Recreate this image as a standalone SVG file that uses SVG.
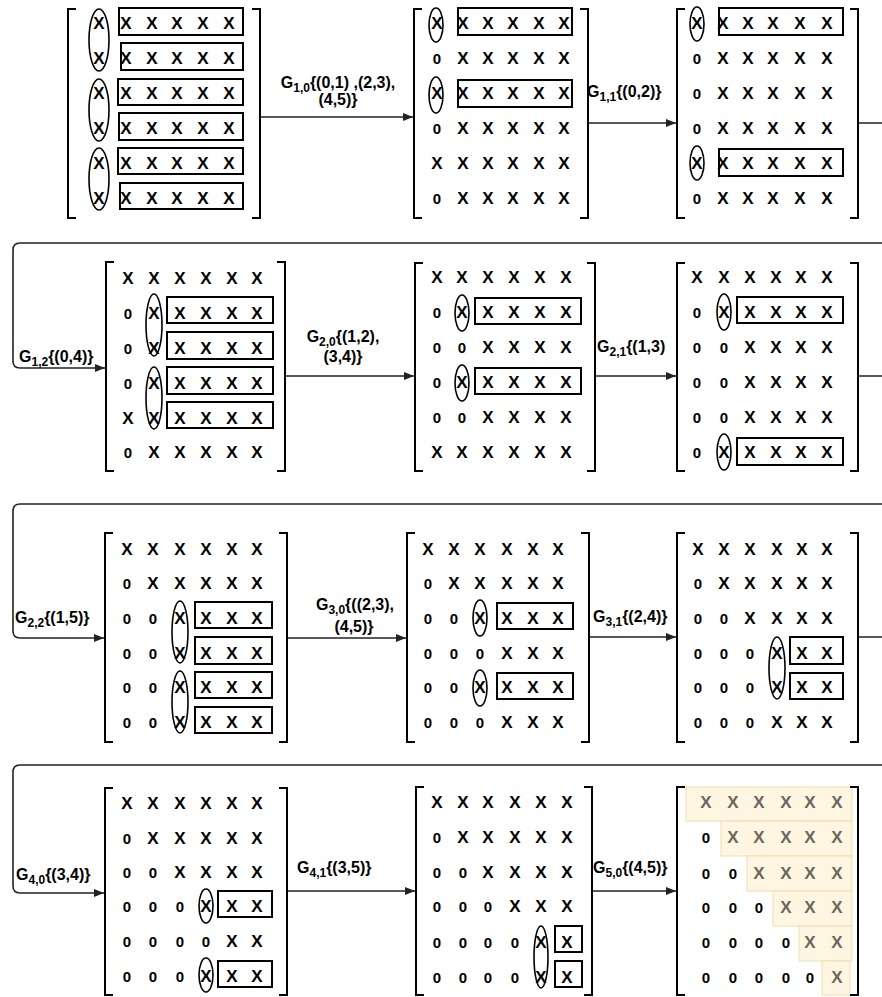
<svg xmlns="http://www.w3.org/2000/svg" width="882" height="997" viewBox="0 0 882 997">
<style>
text{font-family:"Liberation Sans",Arial,sans-serif;font-weight:bold;fill:#000}
.x{font-size:17px;text-anchor:middle;dominant-baseline:central}
.z{font-size:15px}
.g{fill:#6b675c}
.lbl{font-size:16px}
.sb{font-size:12px}
.br{fill:none;stroke:#000;stroke-width:2}
.bx{fill:none;stroke:#000;stroke-width:2}
.el{fill:none;stroke:#000;stroke-width:1.6}
.cn{fill:none;stroke:#222;stroke-width:1.6}
.st{fill:#fef6e1;stroke:#eedfb0;stroke-width:1}
</style>
<defs>
<marker id="ah" viewBox="0 0 10 8" refX="10" refY="4" markerWidth="10" markerHeight="8" markerUnits="userSpaceOnUse" orient="auto">
<path d="M0,0 L10,4 L0,8 Z" fill="#222"/>
</marker>
</defs>
<rect width="882" height="997" fill="#fff"/>

<g id="connectors">
<path class="cn" d="M260,117 H413" marker-end="url(#ah)"/>
<path class="cn" d="M588,123 H676" marker-end="url(#ah)"/>
<path class="cn" d="M858,123 H895 V243 H20 Q13,243 13,250 V361 Q13,368 20,368 H105" marker-end="url(#ah)"/>
<path class="cn" d="M285,376 H414" marker-end="url(#ah)"/>
<path class="cn" d="M595,376 H676" marker-end="url(#ah)"/>
<path class="cn" d="M858,376 H895 V504 H20 Q13,504 13,511 V631 Q13,638 20,638 H104" marker-end="url(#ah)"/>
<path class="cn" d="M287,638 H406" marker-end="url(#ah)"/>
<path class="cn" d="M589,637 H676" marker-end="url(#ah)"/>
<path class="cn" d="M858,637 H895 V765 H20 Q13,765 13,772 V886 Q13,893 20,893 H104" marker-end="url(#ah)"/>
<path class="cn" d="M287,891 H415" marker-end="url(#ah)"/>
<path class="cn" d="M592,891 H676" marker-end="url(#ah)"/>
</g>

<g id="labels">
<text class="lbl" x="338" y="88" text-anchor="middle">G<tspan class="sb" dy="4">1,0</tspan><tspan dy="-4">{(0,1) ,(2,3),</tspan></text>
<text class="lbl" x="338" y="105" text-anchor="middle">(4,5)}</text>
<text class="lbl" x="587" y="97">G<tspan class="sb" dy="4">1,1</tspan><tspan dy="-4">{(0,2)}</tspan></text>
<text class="lbl" x="19" y="362">G<tspan class="sb" dy="4">1,2</tspan><tspan dy="-4">{(0,4)}</tspan></text>
<text class="lbl" x="343" y="342" text-anchor="middle">G<tspan class="sb" dy="4">2,0</tspan><tspan dy="-4">{(1,2),</tspan></text>
<text class="lbl" x="343" y="362" text-anchor="middle">(3,4)}</text>
<text class="lbl" x="597" y="352">G<tspan class="sb" dy="4">2,1</tspan><tspan dy="-4">{(1,3)</tspan></text>
<text class="lbl" x="15" y="623">G<tspan class="sb" dy="4">2,2</tspan><tspan dy="-4">{(1,5)}</tspan></text>
<text class="lbl" x="355" y="610" text-anchor="middle">G<tspan class="sb" dy="4">3,0</tspan><tspan dy="-4">{((2,3),</tspan></text>
<text class="lbl" x="354" y="632" text-anchor="middle">(4,5)}</text>
<text class="lbl" x="593" y="622">G<tspan class="sb" dy="4">3,1</tspan><tspan dy="-4">{(2,4)}</tspan></text>
<text class="lbl" x="16" y="880">G<tspan class="sb" dy="4">4,0</tspan><tspan dy="-4">{(3,4)}</tspan></text>
<text class="lbl" x="297" y="873">G<tspan class="sb" dy="4">4,1</tspan><tspan dy="-4">{(3,5)}</tspan></text>
<text class="lbl" x="593" y="873">G<tspan class="sb" dy="4">5,0</tspan><tspan dy="-4">{(4,5)}</tspan></text>
</g>

<g id="m1">
<path class="br" d="M76,9 H68 V218 H76 M252,9 H260 V218 H252"/>
<rect class="bx" x="119" y="8" width="124" height="27"/>
<rect class="bx" x="121" y="43" width="122" height="27"/>
<rect class="bx" x="118" y="79" width="125" height="26"/>
<rect class="bx" x="119" y="113" width="124" height="27"/>
<rect class="bx" x="118" y="148" width="125" height="26"/>
<rect class="bx" x="120" y="183" width="123" height="26"/>
<ellipse class="el" cx="99" cy="40" rx="10" ry="31"/>
<ellipse class="el" cx="99" cy="110" rx="10" ry="31"/>
<ellipse class="el" cx="99" cy="179" rx="10" ry="31"/>
<text class="x" x="99 126 152 177 203 229" y="23">XXXXXX</text>
<text class="x" x="99 126 152 177 203 229" y="58">XXXXXX</text>
<text class="x" x="99 126 152 177 203 229" y="93">XXXXXX</text>
<text class="x" x="99 126 152 177 203 229" y="128">XXXXXX</text>
<text class="x" x="99 126 152 177 203 229" y="163">XXXXXX</text>
<text class="x" x="99 126 152 177 203 229" y="198">XXXXXX</text>
</g>

<g id="m2">
<path class="br" d="M422,9 H414 V218 H422 M580,9 H588 V218 H580"/>
<rect class="bx" x="458" y="8" width="114" height="27"/>
<rect class="bx" x="458" y="80" width="114" height="27"/>
<ellipse class="el" cx="436" cy="25" rx="7" ry="17"/>
<ellipse class="el" cx="436" cy="95" rx="7" ry="18"/>
<text class="x" x="437 463 488 513 539 564" y="23">XXXXXX</text>
<text class="x" y="58"><tspan class="z" x="437">0</tspan><tspan x="463 488 513 539 564">XXXXX</tspan></text>
<text class="x" x="437 463 488 513 539 564" y="93">XXXXXX</text>
<text class="x" y="128"><tspan class="z" x="437">0</tspan><tspan x="463 488 513 539 564">XXXXX</tspan></text>
<text class="x" x="437 463 488 513 539 564" y="163">XXXXXX</text>
<text class="x" y="198"><tspan class="z" x="437">0</tspan><tspan x="463 488 513 539 564">XXXXX</tspan></text>
</g>

<g id="m3">
<path class="br" d="M685,9 H677 V218 H685 M850,9 H858 V218 H850"/>
<rect class="bx" x="719" y="8" width="124" height="27"/>
<rect class="bx" x="719" y="149" width="124" height="27"/>
<ellipse class="el" cx="697" cy="24" rx="7" ry="17"/>
<ellipse class="el" cx="697" cy="163" rx="7" ry="17"/>
<text class="x" x="697 723 748 773 800 827" y="23">XXXXXX</text>
<text class="x" y="58"><tspan class="z" x="697">0</tspan><tspan x="723 748 773 800 827">XXXXX</tspan></text>
<text class="x" y="93"><tspan class="z" x="697">0</tspan><tspan x="723 748 773 800 827">XXXXX</tspan></text>
<text class="x" y="128"><tspan class="z" x="697">0</tspan><tspan x="723 748 773 800 827">XXXXX</tspan></text>
<text class="x" x="697 723 748 773 800 827" y="163">XXXXXX</text>
<text class="x" y="198"><tspan class="z" x="697">0</tspan><tspan x="723 748 773 800 827">XXXXX</tspan></text>
</g>

<g id="m4">
<path class="br" d="M114,262 H106 V471 H114 M277,262 H285 V471 H277"/>
<rect class="bx" x="167" y="297" width="106" height="26"/>
<rect class="bx" x="167" y="332" width="106" height="27"/>
<rect class="bx" x="167" y="367" width="106" height="27"/>
<rect class="bx" x="167" y="402" width="106" height="26"/>
<ellipse class="el" cx="154" cy="325" rx="8" ry="31"/>
<ellipse class="el" cx="154" cy="398" rx="8" ry="31"/>
<text class="x" x="128 154 180 206 232 257" y="278">XXXXXX</text>
<text class="x" y="313"><tspan class="z" x="128">0</tspan><tspan x="154 180 206 232 257">XXXXX</tspan></text>
<text class="x" y="348"><tspan class="z" x="128">0</tspan><tspan x="154 180 206 232 257">XXXXX</tspan></text>
<text class="x" y="383"><tspan class="z" x="128">0</tspan><tspan x="154 180 206 232 257">XXXXX</tspan></text>
<text class="x" x="128 154 180 206 232 257" y="418">XXXXXX</text>
<text class="x" y="452"><tspan class="z" x="128">0</tspan><tspan x="154 180 206 232 257">XXXXX</tspan></text>
</g>

<g id="m5">
<path class="br" d="M423,263 H415 V471 H423 M587,263 H595 V471 H587"/>
<rect class="bx" x="475" y="298" width="106" height="26"/>
<rect class="bx" x="475" y="368" width="106" height="26"/>
<ellipse class="el" cx="462" cy="313" rx="7" ry="18"/>
<ellipse class="el" cx="462" cy="383" rx="7" ry="18"/>
<text class="x" x="437 462 488 514 540 566" y="277">XXXXXX</text>
<text class="x" y="312"><tspan class="z" x="437">0</tspan><tspan x="462 488 514 540 566">XXXXX</tspan></text>
<text class="x" y="347"><tspan class="z" x="437 462">00</tspan><tspan x="488 514 540 566">XXXX</tspan></text>
<text class="x" y="382"><tspan class="z" x="437">0</tspan><tspan x="462 488 514 540 566">XXXXX</tspan></text>
<text class="x" y="417"><tspan class="z" x="437 462">00</tspan><tspan x="488 514 540 566">XXXX</tspan></text>
<text class="x" x="437 462 488 514 540 566" y="452">XXXXXX</text>
</g>

<g id="m6">
<path class="br" d="M685,263 H677 V471 H685 M850,263 H858 V471 H850"/>
<rect class="bx" x="737" y="297" width="106" height="26"/>
<rect class="bx" x="737" y="438" width="106" height="27"/>
<ellipse class="el" cx="724" cy="312" rx="7" ry="18"/>
<ellipse class="el" cx="724" cy="452" rx="7" ry="18"/>
<text class="x" x="697 724 750 776 801 827" y="277">XXXXXX</text>
<text class="x" y="312"><tspan class="z" x="697">0</tspan><tspan x="724 750 776 801 827">XXXXX</tspan></text>
<text class="x" y="347"><tspan class="z" x="697 724">00</tspan><tspan x="750 776 801 827">XXXX</tspan></text>
<text class="x" y="382"><tspan class="z" x="697 724">00</tspan><tspan x="750 776 801 827">XXXX</tspan></text>
<text class="x" y="417"><tspan class="z" x="697 724">00</tspan><tspan x="750 776 801 827">XXXX</tspan></text>
<text class="x" y="452"><tspan class="z" x="697">0</tspan><tspan x="724 750 776 801 827">XXXXX</tspan></text>
</g>

<g id="m7">
<path class="br" d="M113,533 H105 V742 H113 M279,533 H287 V742 H279"/>
<rect class="bx" x="195" y="602" width="77" height="26"/>
<rect class="bx" x="195" y="637" width="77" height="27"/>
<rect class="bx" x="195" y="672" width="77" height="26"/>
<rect class="bx" x="195" y="707" width="77" height="26"/>
<ellipse class="el" cx="180" cy="632" rx="8" ry="31"/>
<ellipse class="el" cx="180" cy="702" rx="8" ry="31"/>
<text class="x" x="127 153 180 206 232 257" y="549">XXXXXX</text>
<text class="x" y="583"><tspan class="z" x="127">0</tspan><tspan x="153 180 206 232 257">XXXXX</tspan></text>
<text class="x" y="618"><tspan class="z" x="127 153">00</tspan><tspan x="180 206 232 257">XXXX</tspan></text>
<text class="x" y="653"><tspan class="z" x="127 153">00</tspan><tspan x="180 206 232 257">XXXX</tspan></text>
<text class="x" y="687"><tspan class="z" x="127 153">00</tspan><tspan x="180 206 232 257">XXXX</tspan></text>
<text class="x" y="722"><tspan class="z" x="127 153">00</tspan><tspan x="180 206 232 257">XXXX</tspan></text>
</g>

<g id="m8">
<path class="br" d="M415,533 H407 V742 H415 M581,533 H589 V742 H581"/>
<rect class="bx" x="497" y="603" width="76" height="26"/>
<rect class="bx" x="497" y="673" width="76" height="26"/>
<ellipse class="el" cx="480" cy="618" rx="7" ry="18"/>
<ellipse class="el" cx="480" cy="688" rx="7" ry="18"/>
<text class="x" x="428 454 480 507 533 558" y="549">XXXXXX</text>
<text class="x" y="583"><tspan class="z" x="428">0</tspan><tspan x="454 480 507 533 558">XXXXX</tspan></text>
<text class="x" y="618"><tspan class="z" x="428 454">00</tspan><tspan x="480 507 533 558">XXXX</tspan></text>
<text class="x" y="653"><tspan class="z" x="428 454 480">000</tspan><tspan x="507 533 558">XXX</tspan></text>
<text class="x" y="687"><tspan class="z" x="428 454">00</tspan><tspan x="480 507 533 558">XXXX</tspan></text>
<text class="x" y="722"><tspan class="z" x="428 454 480">000</tspan><tspan x="507 533 558">XXX</tspan></text>
</g>

<g id="m9">
<path class="br" d="M685,533 H677 V742 H685 M850,533 H858 V742 H850"/>
<rect class="bx" x="790" y="637" width="53" height="27"/>
<rect class="bx" x="790" y="673" width="53" height="26"/>
<ellipse class="el" cx="777" cy="668" rx="8" ry="31"/>
<text class="x" x="698 724 750 777 802 827" y="549">XXXXXX</text>
<text class="x" y="583"><tspan class="z" x="698">0</tspan><tspan x="724 750 777 802 827">XXXXX</tspan></text>
<text class="x" y="618"><tspan class="z" x="698 724">00</tspan><tspan x="750 777 802 827">XXXX</tspan></text>
<text class="x" y="653"><tspan class="z" x="698 724 750">000</tspan><tspan x="777 802 827">XXX</tspan></text>
<text class="x" y="687"><tspan class="z" x="698 724 750">000</tspan><tspan x="777 802 827">XXX</tspan></text>
<text class="x" y="722"><tspan class="z" x="698 724 750">000</tspan><tspan x="777 802 827">XXX</tspan></text>
</g>

<g id="m10">
<path class="br" d="M113,788 H105 V995 H113 M279,788 H287 V995 H279"/>
<rect class="bx" x="218" y="891" width="54" height="26"/>
<rect class="bx" x="218" y="961" width="54" height="26"/>
<ellipse class="el" cx="206" cy="906" rx="7" ry="17"/>
<ellipse class="el" cx="206" cy="975" rx="7" ry="17"/>
<text class="x" x="127 153 180 206 232 257" y="803">XXXXXX</text>
<text class="x" y="838"><tspan class="z" x="127">0</tspan><tspan x="153 180 206 232 257">XXXXX</tspan></text>
<text class="x" y="872"><tspan class="z" x="127 153">00</tspan><tspan x="180 206 232 257">XXXX</tspan></text>
<text class="x" y="906"><tspan class="z" x="127 153 180">000</tspan><tspan x="206 232 257">XXX</tspan></text>
<text class="x" y="941"><tspan class="z" x="127 153 180 206">0000</tspan><tspan x="232 257">XX</tspan></text>
<text class="x" y="976"><tspan class="z" x="127 153 180">000</tspan><tspan x="206 232 257">XXX</tspan></text>
</g>

<g id="m11">
<path class="br" d="M424,787 H416 V995 H424 M584,787 H592 V995 H584"/>
<rect class="bx" x="555" y="926" width="27" height="26"/>
<rect class="bx" x="555" y="961" width="27" height="26"/>
<ellipse class="el" cx="541" cy="957" rx="7" ry="31"/>
<text class="x" x="437 463 488 515 541 567" y="802">XXXXXX</text>
<text class="x" y="837"><tspan class="z" x="437">0</tspan><tspan x="463 488 515 541 567">XXXXX</tspan></text>
<text class="x" y="872"><tspan class="z" x="437 463">00</tspan><tspan x="488 515 541 567">XXXX</tspan></text>
<text class="x" y="906"><tspan class="z" x="437 463 488">000</tspan><tspan x="515 541 567">XXX</tspan></text>
<text class="x" y="942"><tspan class="z" x="437 463 488 515">0000</tspan><tspan x="541 567">XX</tspan></text>
<text class="x" y="977"><tspan class="z" x="437 463 488 515">0000</tspan><tspan x="541 567">XX</tspan></text>
</g>

<g id="m12">
<rect class="st" x="686" y="787" width="166" height="34"/>
<rect class="st" x="721" y="821" width="131" height="35"/>
<rect class="st" x="747" y="856" width="105" height="35"/>
<rect class="st" x="773" y="891" width="79" height="35"/>
<rect class="st" x="799" y="926" width="53" height="35"/>
<rect class="st" x="822" y="961" width="28" height="34"/>
<path class="br" d="M685,787 H677 V995 H685 M850,787 H858 V995 H850"/>
<text class="x g" x="706 733 759 786 810 837" y="802">XXXXXX</text>
<text class="x" y="837"><tspan class="z" x="706">0</tspan><tspan class="g" x="733 759 786 810 837">XXXXX</tspan></text>
<text class="x" y="873"><tspan class="z" x="706 733">00</tspan><tspan class="g" x="759 786 810 837">XXXX</tspan></text>
<text class="x" y="907"><tspan class="z" x="706 733 759">000</tspan><tspan class="g" x="786 810 837">XXX</tspan></text>
<text class="x" y="942"><tspan class="z" x="706 733 759 786">0000</tspan><tspan class="g" x="810 837">XX</tspan></text>
<text class="x" y="977"><tspan class="z" x="706 733 759 786 810">00000</tspan><tspan class="g" x="837">X</tspan></text>
</g>
</svg>
